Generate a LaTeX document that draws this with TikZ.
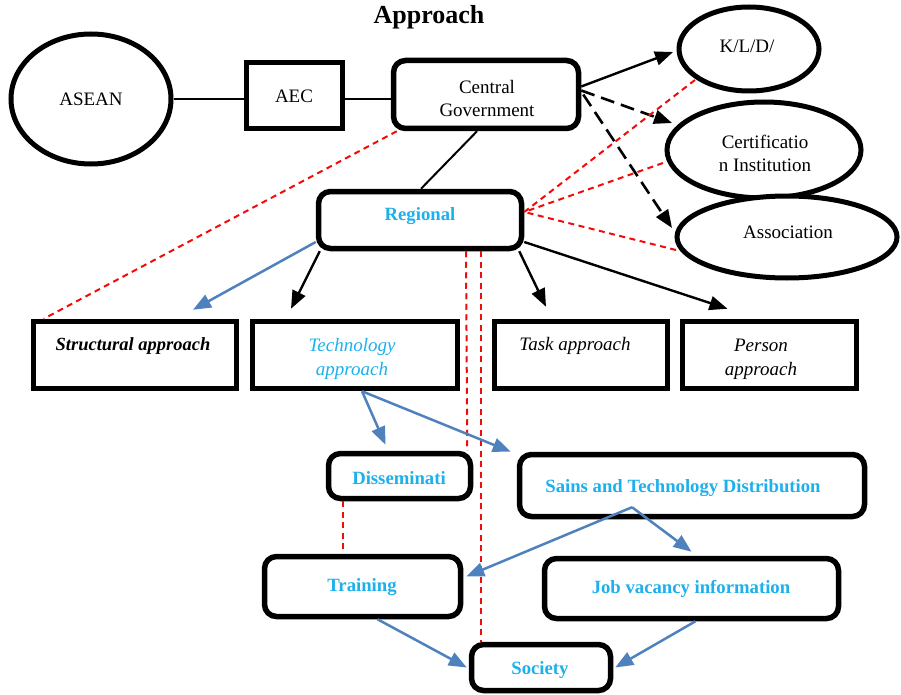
\documentclass[tikz,border=0pt]{standalone}
\usepackage{fontspec}
\setmainfont{Liberation Serif}
\usetikzlibrary{shapes.geometric,arrows.meta,calc}
\definecolor{cyantxt}{RGB}{28,176,236}
\definecolor{bluearr}{RGB}{79,129,189}
\definecolor{reddash}{RGB}{245,10,10}
\begin{document}
\begin{tikzpicture}[x=1pt,y=-1pt,
  every node/.style={font=\fontsize{19}{23}\selectfont},
  rbox/.style={draw, line width=5.5pt, rounded corners=12pt, inner sep=0pt, fill=white},
  sbox/.style={draw, line width=5pt, inner sep=0pt, fill=white},
  ebox/.style={draw, ellipse, line width=5pt, inner sep=0pt, fill=white},
  txt/.style={inner sep=0pt, align=center},
  ctxt/.style={txt, text=cyantxt, font=\fontsize{18.7}{23}\selectfont\bfseries},
  thinline/.style={line width=2pt},
  blarr/.style={line width=2.4pt, -{Triangle[length=18pt,width=14pt]}},
  dblarr/.style={line width=2.6pt, dash pattern=on 14pt off 7pt, -{Triangle[length=18pt,width=14pt]}},
  bluearrow/.style={line width=2.5pt, draw=bluearr, -{Triangle[length=18pt,width=14pt,fill=bluearr]}},
  rdash/.style={line width=2pt, draw=reddash, dash pattern=on 6pt off 4.5pt}
]
\useasboundingbox (0,0) rectangle (901,695);

\node[txt, font=\fontsize{26}{30}\selectfont\bfseries] (title) at (429,17) {Approach};

% top row
\node[ebox, minimum width=160pt, minimum height=130pt] (asean) at (91,99) {ASEAN};
\node[sbox, minimum width=96pt, minimum height=66pt] (aec) at (294,96) {AEC};
\node[rbox, minimum width=185pt, minimum height=68pt] (cg) at (486,94.5) {};
\node[txt] (cgt) at (487,98.5) {Central\\Government};

% right ellipses
\node[ebox, minimum width=140pt, minimum height=84pt] (kld) at (749,49) {};
\node[txt] (kldt) at (747,46) {K/L/D/};
\node[ebox, minimum width=194pt, minimum height=96pt] (cert) at (764,150) {};
\node[txt] (certt) at (765,153) {Certificatio\\n Institution};
\node[ebox, minimum width=220pt, minimum height=82pt] (assoc) at (787,237) {};
\node[txt] (assoct) at (788,232) {Association};

% regional
\node[rbox, minimum width=203pt, minimum height=57pt] (rg) at (420,220) {};
\node[ctxt] (rgt) at (420,216) {Regional};

% approaches
\node[sbox, line width=5.5pt, minimum width=203pt, minimum height=67pt] (st) at (135,355) {};
\node[txt, font=\fontsize{18.5}{23}\selectfont\bfseries\itshape] (stt) at (133,346) {Structural approach};
\node[sbox, line width=5.5pt, minimum width=205pt, minimum height=67pt] (tech) at (355,355) {};
\node[txt, text=cyantxt, font=\fontsize{19}{24}\selectfont\itshape] (techt) at (352,359) {Technology\\approach};
\node[sbox, line width=5.5pt, minimum width=173pt, minimum height=67pt] (task) at (581,355) {};
\node[txt, font=\fontsize{19}{23}\selectfont\itshape] (taskt) at (575,346) {Task approach};
\node[sbox, line width=5.5pt, minimum width=174pt, minimum height=67pt] (pers) at (769.5,355) {};
\node[txt, font=\fontsize{19}{24}\selectfont\itshape] (perst) at (761,359) {Person\\approach};

% lower boxes
\node[rbox, minimum width=142pt, minimum height=45pt] (dis) at (399.5,476) {};
\node[ctxt] (dist) at (399,478) {Disseminati};
\node[rbox, minimum width=345pt, minimum height=62pt] (sains) at (692,485.5) {};
\node[ctxt] (sainst) at (683,488) {Sains and Technology Distribution};
\node[rbox, minimum width=196pt, minimum height=60pt] (tr) at (362.5,586.5) {};
\node[ctxt] (trt) at (362,587) {Training};
\node[rbox, minimum width=294pt, minimum height=60pt] (job) at (691.5,588.5) {};
\node[ctxt] (jobt) at (691,589) {Job vacancy information};
\node[rbox, minimum width=139pt, minimum height=46pt] (soc) at (541,667.5) {};
\node[ctxt] (soct) at (540,670) {Society};

% black connections
\draw[thinline] (asean.east) -- (asean.east -| aec.west);
\draw[thinline] (aec.east |- asean.east) -- (asean.east -| cg.west);
\draw[thinline] ($(cg.south)+(-9,0)$) -- ($(rg.north)+(1,0)$);
\draw[blarr] ($(cg.east)+(0,-8)$) -- ($(kld.center)+(-76,3)$);
\draw[dblarr] ($(cg.east)+(0,-4)$) -- ($(cert.center)+(-92,-27)$);
\draw[dblarr] ($(cg.east)+(2,0)$) -- ($(assoc.center)+(-115,-9)$);

\draw[blarr] ($(rg.south west)+(4,0)$) -- ($(tech.north)+(-64,-10)$);
\draw[blarr] ($(rg.south east)+(-5,0)$) -- ($(task.north)+(-35,-12)$);
\draw[blarr] ($(rg.east)+(0,22)$) -- ($(pers.north)+(-42,-10)$);

% red dashed
\draw[rdash] ($(kld.center)+(-54,31)$) -- ($(rg.east)+(0,-8)$);
\draw[rdash] ($(cert.center)+(-101,13)$) -- ($(rg.east)+(0,-8)$);
\draw[rdash] ($(assoc.center)+(-111,13)$) -- ($(rg.east)+(0,-8)$);
\draw[rdash] ($(cg.south west)+(6,0)$) -- ($(st.north west)+(13,0)$);
\draw[rdash] ($(rg.south)+(46,0)$) -- ($(dis.north east)+(-6,0)$);
\draw[rdash] ($(rg.south)+(61,0)$) coordinate (v2) -- (v2 |- soc.north);
\draw[rdash] ($(dis.south)+(-57,0)$) coordinate (v3) -- (v3 |- tr.north);

% blue arrows
\draw[bluearrow] ($(rg.west)+(0,22)$) -- ($(st.north)+(58,-9)$);
\draw[bluearrow] ($(tech.south)+(7,0)$) -- ($(dis.north)+(-14,-6)$);
\draw[bluearrow] ($(tech.south)+(7,0)$) -- ($(sains.north west)+(-6,0)$);
\draw[bluearrow] ($(sains.south)+(-60,-12)$) -- ($(tr.east)+(3,-10)$);
\draw[bluearrow] ($(sains.south)+(-60,-12)$) -- ($(job.north)+(0,-4)$);
\draw[bluearrow] ($(tr.south)+(15,0)$) -- ($(soc.west)+(-2,0)$);
\draw[bluearrow] ($(job.south)+(4,0)$) -- ($(soc.east)+(2,0)$);
\end{tikzpicture}
\end{document}
